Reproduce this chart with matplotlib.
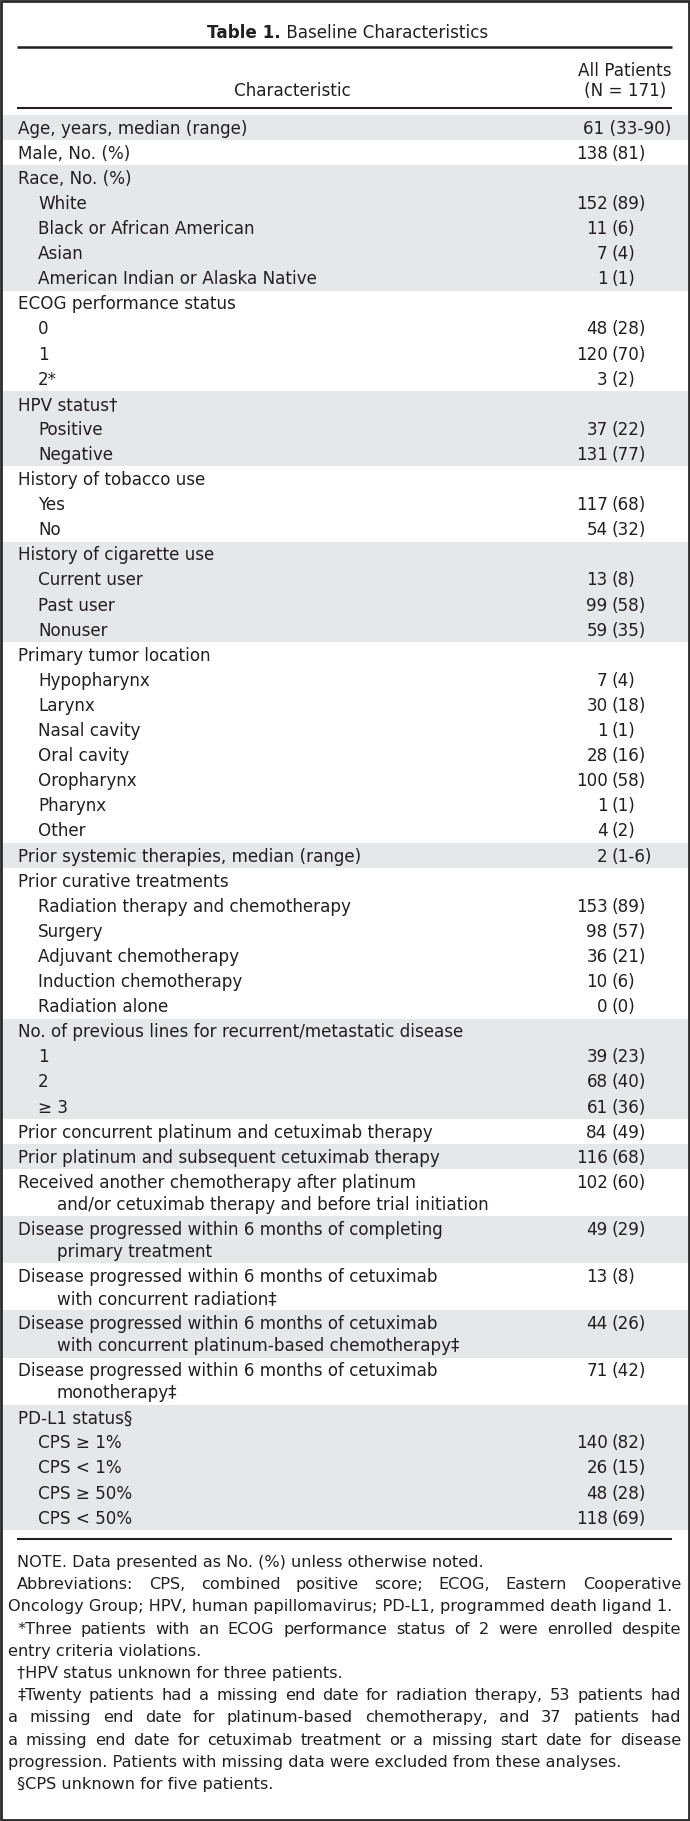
import matplotlib
matplotlib.use("Agg")
import matplotlib.pyplot as plt
from matplotlib.patches import Rectangle

plt.rcParams['font.family'] = ['DejaVu Sans']

# table content
title_bold = "Table 1."
title_rest = " Baseline Characteristics"
col_head = "Characteristic"
val_head = ["All Patients", "(N = 171)"]

row_labels = [
    "Age, years, median (range)",
    "Male, No. (%)",
    "Race, No. (%)", "White", "Black or African American", "Asian",
    "American Indian or Alaska Native",
    "ECOG performance status", "0", "1", "2*",
    "HPV status\u2020", "Positive", "Negative",
    "History of tobacco use", "Yes", "No",
    "History of cigarette use", "Current user", "Past user", "Nonuser",
    "Primary tumor location", "Hypopharynx", "Larynx", "Nasal cavity",
    "Oral cavity", "Oropharynx", "Pharynx", "Other",
    "Prior systemic therapies, median (range)",
    "Prior curative treatments", "Radiation therapy and chemotherapy",
    "Surgery", "Adjuvant chemotherapy", "Induction chemotherapy",
    "Radiation alone",
    "No. of previous lines for recurrent/metastatic disease",
    "1", "2", "\u2265 3",
    "Prior concurrent platinum and cetuximab therapy",
    "Prior platinum and subsequent cetuximab therapy",
    "Received another chemotherapy after platinum\n"
    "and/or cetuximab therapy and before trial initiation",
    "Disease progressed within 6 months of completing\nprimary treatment",
    "Disease progressed within 6 months of cetuximab\n"
    "with concurrent radiation\u2021",
    "Disease progressed within 6 months of cetuximab\n"
    "with concurrent platinum-based chemotherapy\u2021",
    "Disease progressed within 6 months of cetuximab\nmonotherapy\u2021",
    "PD-L1 status\u00a7", "CPS \u2265 1%", "CPS < 1%", "CPS \u2265 50%",
    "CPS < 50%",
]
row_values = [
    "61 (33-90)",
    "138 (81)",
    "", "152 (89)", "11 (6)", "7 (4)", "1 (1)",
    "", "48 (28)", "120 (70)", "3 (2)",
    "", "37 (22)", "131 (77)",
    "", "117 (68)", "54 (32)",
    "", "13 (8)", "99 (58)", "59 (35)",
    "", "7 (4)", "30 (18)", "1 (1)", "28 (16)", "100 (58)", "1 (1)",
    "4 (2)",
    "2 (1-6)",
    "", "153 (89)", "98 (57)", "36 (21)", "10 (6)", "0 (0)",
    "", "39 (23)", "68 (40)", "61 (36)",
    "84 (49)",
    "116 (68)",
    "102 (60)",
    "49 (29)",
    "13 (8)",
    "44 (26)",
    "71 (42)",
    "", "140 (82)", "26 (15)", "48 (28)", "118 (69)",
]
# rows in each group (a group is one shaded / unshaded band)
group_sizes = [1, 1, 5, 4, 3, 3, 4, 8, 1, 6, 4, 1, 1, 1, 1, 1, 1, 1, 5]

footnotes = [
    "NOTE. Data presented as No. (%) unless otherwise noted.",
    "Abbreviations: CPS, combined positive score; ECOG, Eastern Cooperative",
    "Oncology Group; HPV, human papillomavirus; PD-L1, programmed death ligand 1.",
    "*Three patients with an ECOG performance status of 2 were enrolled despite",
    "entry criteria violations.",
    "\u2020HPV status unknown for three patients.",
    "\u2021Twenty patients had a missing end date for radiation therapy, 53 patients had",
    "a missing end date for platinum-based chemotherapy, and 37 patients had",
    "a missing end date for cetuximab treatment or a missing start date for disease",
    "progression. Patients with missing data were excluded from these analyses.",
    "\u00a7CPS unknown for five patients.",
]
foot_indent = [1, 1, 0, 1, 0, 1, 1, 0, 0, 0, 1]
foot_justify = [0, 1, 0, 1, 0, 0, 1, 1, 1, 0, 0]

# layout (pixels)
W, H = 690, 1821
FS = 12.1
FS_FOOT = 11.6
TXT = '#231f20'
SHADE = '#e6e7e8'
x_left, x_sub, x_wrap = 18.5, 38, 57
x_num, x_par, x_right = 607.5, 611.5, 671.7
row_h, wrap_h = 25.1, 22.0
table_top = 115

fig = plt.figure(figsize=(W / 100, H / 100), dpi=100)
ax = fig.add_axes([0, 0, 1, 1])
ax.set_xlim(0, W)
ax.set_ylim(H, 0)
ax.axis('off')
renderer = fig.canvas.get_renderer()


def width_of(t):
    return t.get_window_extent(renderer).width


# title
tb = ax.text(0, 38, title_bold, fontsize=FS, weight='bold', color=TXT, va='baseline')
tr = ax.text(0, 38, title_rest, fontsize=FS, color=TXT, va='baseline')
wb, wr = width_of(tb), width_of(tr)
x0 = 347.5 - (wb + wr) / 2
tb.set_x(x0)
tr.set_x(x0 + wb)

ax.plot([17.3, x_right], [46.7, 46.7], color=TXT, lw=1.8, solid_capstyle='butt')
h1 = ax.text(0, 76, val_head[0], fontsize=FS, color=TXT, ha='center', va='baseline')
x_head = x_right - width_of(h1) / 2
h1.set_x(x_head)
ax.text(x_head, 96, val_head[1], fontsize=FS, color=TXT, ha='center', va='baseline')
ax.text(292, 96, col_head, fontsize=FS, color=TXT, ha='center', va='baseline')
ax.plot([17.3, x_right], [108, 108], color=TXT, lw=1.5, solid_capstyle='butt')

# rows
y = table_top
i = 0
for g, n in enumerate(group_sizes):
    g_top = y
    for k in range(n):
        lines = row_labels[i].split('\n')
        base = y + 18.6
        x = x_left if k == 0 else x_sub
        ax.text(x, base, lines[0], fontsize=FS, color=TXT, va='baseline')
        for j, ln in enumerate(lines[1:]):
            ax.text(x_wrap, base + wrap_h * (j + 1), ln, fontsize=FS, color=TXT,
                    va='baseline')
        v = row_values[i]
        if v:
            num, par = v.split(' ', 1)
            tp = ax.text(x_par, base, par, fontsize=FS, color=TXT, va='baseline')
            if x_par + width_of(tp) > x_right:
                tp.remove()
                ax.text(x_right, base, v, fontsize=FS, color=TXT, ha='right',
                        va='baseline')
            else:
                ax.text(x_num, base, num, fontsize=FS, color=TXT, ha='right',
                        va='baseline')
        y += row_h + wrap_h * (len(lines) - 1)
        i += 1
    if g % 2 == 0:
        ax.add_patch(Rectangle((2, g_top), W - 4, y - g_top, facecolor=SHADE,
                               edgecolor='none', zorder=0))

ax.plot([17.3, x_right], [1539, 1539], color=TXT, lw=1.5, solid_capstyle='butt')

# footnotes, justified like the journal page
f_base, f_pitch = 1567, 22.2
f_left, f_ind, f_right = 8, 17, 681
for k, line in enumerate(footnotes):
    yb = f_base + k * f_pitch
    xs = f_ind if foot_indent[k] else f_left
    if not foot_justify[k]:
        ax.text(xs, yb, line, fontsize=FS_FOOT, color=TXT, va='baseline')
        continue
    words = line.split(' ')
    texts = [ax.text(0, yb, w, fontsize=FS_FOOT, color=TXT, va='baseline')
             for w in words]
    widths = [width_of(t) for t in texts]
    gap = max((f_right - xs - sum(widths)) / (len(words) - 1), 2.5)
    xx = xs
    for t, w in zip(texts, widths):
        t.set_x(xx)
        xx += w + gap

# outer frame
ax.add_patch(Rectangle((1.3, 1.3), W - 2.6, H - 2.6, facecolor='none',
                       edgecolor='#2a2a2a', lw=2.0, zorder=5))

fig.savefig('out.png', dpi=100)
